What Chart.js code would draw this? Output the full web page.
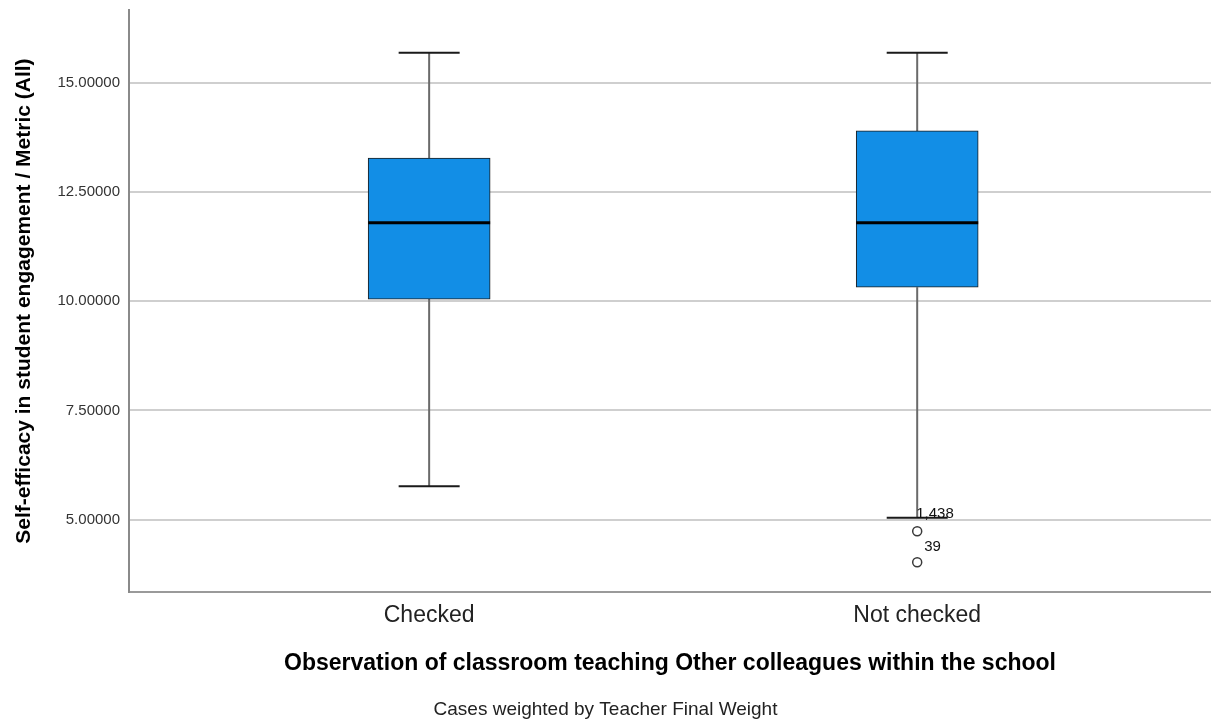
<!DOCTYPE html>
<html>
<head>
<meta charset="utf-8">
<script src="https://cdn.jsdelivr.net/npm/chart.js@4/dist/chart.umd.min.js"></script>
<style>
  html, body { margin: 0; padding: 0; background: #fff; }
  #wrap { width: 1211px; height: 723px; }
</style>
</head>
<body>
<div id="wrap"><canvas id="boxChart"></canvas></div>
<script>
const groups = ['Checked', 'Not checked'];
const groupPos = [1, 2];
const whiskerLow = [5.76, 5.04];
const quartile1 = [10.05, 10.32];
const medians = [11.80, 11.80];
const quartile3 = [13.28, 13.90];
const whiskerHigh = [15.69, 15.69];
const outlierGroup = [2, 2];
const outlierValues = [4.73, 4.02];
const outlierLabels = ['1,438', '39'];
const yTicks = [5, 7.5, 10, 12.5, 15];

const fontFamily = '"Liberation Sans", Arial, sans-serif';

// whiskers, caps, median and case labels drawn against the chart scales
const boxWhiskers = {
  id: 'boxWhiskers',
  beforeDatasetsDraw(chart) {
    const {ctx, scales: {x, y}} = chart;
    ctx.save();
    ctx.strokeStyle = '#6a6a6a';
    ctx.lineWidth = 2;
    for (let i = 0; i < groupPos.length; i++) {
      const px = x.getPixelForValue(groupPos[i]);
      ctx.beginPath();
      ctx.moveTo(px, y.getPixelForValue(whiskerHigh[i]));
      ctx.lineTo(px, y.getPixelForValue(quartile3[i]));
      ctx.moveTo(px, y.getPixelForValue(quartile1[i]));
      ctx.lineTo(px, y.getPixelForValue(whiskerLow[i]));
      ctx.stroke();
    }
    ctx.restore();
  },
  afterDatasetsDraw(chart, args, opts) {
    const {ctx, scales: {x, y}} = chart;
    const bars = chart.getDatasetMeta(0).data;
    ctx.save();
    for (let i = 0; i < groupPos.length; i++) {
      const px = x.getPixelForValue(groupPos[i]);
      const half = bars[i].width / 2;
      // caps
      ctx.strokeStyle = '#1a1a1a';
      ctx.lineWidth = 2;
      ctx.beginPath();
      [whiskerHigh[i], whiskerLow[i]].forEach(v => {
        const py = y.getPixelForValue(v);
        ctx.moveTo(px - half / 2, py);
        ctx.lineTo(px + half / 2, py);
      });
      ctx.stroke();
      // median
      ctx.strokeStyle = '#000';
      ctx.lineWidth = 3;
      ctx.beginPath();
      const my = y.getPixelForValue(medians[i]);
      ctx.moveTo(px - half, my);
      ctx.lineTo(px + half, my);
      ctx.stroke();
    }
    ctx.fillStyle = '#111';
    ctx.font = '15px ' + fontFamily;
    ctx.textAlign = 'left';
    ctx.textBaseline = 'middle';
    for (let i = 0; i < outlierLabels.length; i++) {
      const off = opts.labelOffsets[i];
      ctx.fillText(outlierLabels[i],
        x.getPixelForValue(outlierGroup[i]) + off[0],
        y.getPixelForValue(outlierValues[i]) + off[1]);
    }
    ctx.restore();
  }
};

new Chart(document.getElementById('boxChart'), {
  type: 'bar',
  data: {
    datasets: [{
      label: 'Box',
      data: groupPos.map((g, i) => ({x: g, y: [quartile1[i], quartile3[i]]})),
      backgroundColor: '#128ee6',
      borderColor: '#1c1c1c',
      borderWidth: 1,
      borderSkipped: false,
      barThickness: 122
    }, {
      type: 'scatter',
      label: 'Outliers',
      data: outlierGroup.map((g, i) => ({x: g, y: outlierValues[i]})),
      pointStyle: 'circle',
      pointRadius: 4.5,
      borderColor: '#3a3a3a',
      backgroundColor: '#fff',
      borderWidth: 1.5
    }]
  },
  options: {
    responsive: true,
    maintainAspectRatio: false,
    animation: false,
    layout: { autoPadding: false, padding: { top: 10, right: 0, left: 0, bottom: 0 } },
    plugins: {
      legend: { display: false },
      tooltip: { enabled: false },
      subtitle: {
        display: true,
        position: 'bottom',
        text: 'Cases weighted by Teacher Final Weight',
        color: '#222',
        font: { family: fontFamily, size: 19 },
        padding: { top: 0, bottom: 2 }
      },
      boxWhiskers: { labelOffsets: [[-1, -17], [7, -15]] }
    },
    scales: {
      x: {
        type: 'linear',
        offset: false,
        min: 0.385,
        max: 2.602,
        afterBuildTicks: scale => { scale.ticks = groupPos.map(v => ({value: v})); },
        afterFit: scale => {
          scale.height = 106;
          scale.paddingLeft = 0;
          scale.paddingRight = 0;
        },
        grid: { display: false, drawTicks: false },
        border: { display: true, color: '#9a9a9a', width: 2 },
        ticks: {
          padding: 10,
          color: '#222',
          font: { family: fontFamily, size: 23 },
          maxRotation: 0,
          callback: v => groups[groupPos.indexOf(v)] ?? ''
        },
        title: {
          display: true,
          text: 'Observation of classroom teaching Other colleagues within the school',
          color: '#000',
          font: { family: fontFamily, size: 23, weight: 'bold' },
          padding: { top: 0, bottom: 21 }
        }
      },
      y: {
        min: 3.336,
        max: 16.67,
        afterBuildTicks: scale => { scale.ticks = yTicks.map(v => ({value: v})); },
        afterFit: scale => {
          scale.width = 129;
          scale.paddingTop = 0;
          scale.paddingBottom = 0;
        },
        grid: { color: '#cfcfcf', lineWidth: 2, drawTicks: false },
        border: { display: true, color: '#8a8a8a', width: 2 },
        ticks: {
          padding: 9,
          color: '#333',
          font: { family: fontFamily, size: 15 },
          callback: v => Number(v).toFixed(5)
        },
        title: {
          display: true,
          text: 'Self-efficacy in student engagement / Metric (All)',
          color: '#000',
          font: { family: fontFamily, size: 21, weight: 'bold' },
          padding: { top: 12, bottom: 0 }
        }
      }
    }
  },
  plugins: [boxWhiskers]
});
</script>
</body>
</html>
